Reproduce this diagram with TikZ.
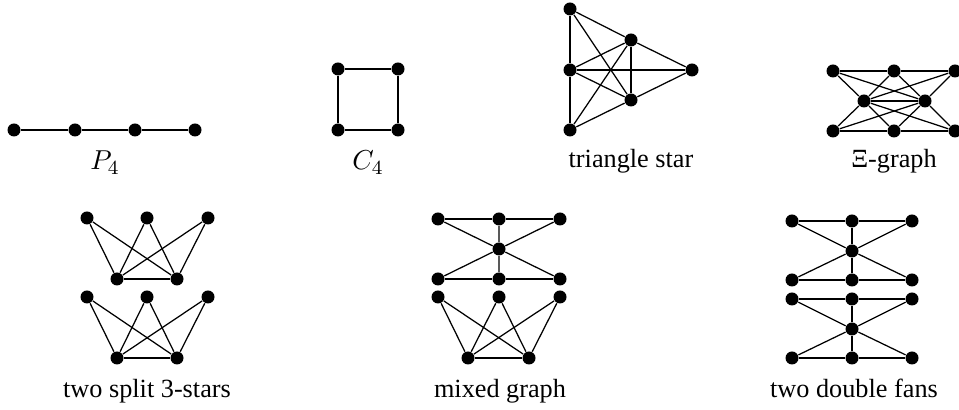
\documentclass[tikz,border=0pt]{standalone}
\usepackage{fontspec}
\setmainfont{Liberation Serif}
\usetikzlibrary{positioning}

\begin{document}
\begin{tikzpicture}[x=0.4pt,y=-0.4pt,line width=0.5pt,
  vtx/.style={circle,fill=black,inner sep=0pt,minimum size=5.2pt},
  lbl/.style={anchor=base,font=\fontsize{10.5}{12}\selectfont}]
  \useasboundingbox (0,0) rectangle (959,410);
  % P4
  \foreach \i/\x in {1/14,2/75,3/135,4/195} \node[vtx] (p\i) at (\x,130) {};
  \draw (p1) -- (p2) -- (p3) -- (p4);
  \node[lbl,font=\fontsize{11}{13}\selectfont] (lp) at (105,170) {$P_4$};
  % C4
  \node[vtx] (c1) at (338,69) {};
  \node[vtx] (c2) at (398,69) {};
  \node[vtx] (c3) at (398,130) {};
  \node[vtx] (c4) at (338,130) {};
  \draw (c1) -- (c2) -- (c3) -- (c4) -- (c1);
  \node[lbl,font=\fontsize{11}{13}\selectfont] (lc) at (368,170) {$C_4$};
  % triangle star
  \node[vtx] (ta) at (570,9) {};
  \node[vtx] (tb) at (631,40) {};
  \node[vtx] (tc) at (570,70) {};
  \node[vtx] (td) at (692,70) {};
  \node[vtx] (te) at (631,100) {};
  \node[vtx] (tf) at (570,130) {};
  \foreach \u/\v in {a/c,c/f,a/b,a/e,b/c,b/d,b/e,b/f,c/d,c/e,d/e,e/f}
    \draw (t\u) -- (t\v);
  \node[lbl] (lt) at (631,168) {triangle star};
  % Xi-graph
  \foreach \i/\x in {1/833,2/894,3/955}{
    \node[vtx] (xa\i) at (\x,71) {};
    \node[vtx] (xb\i) at (\x,131) {};
  }
  \node[vtx] (xm1) at (864,101) {};
  \node[vtx] (xm2) at (925,101) {};
  \draw (xa1) -- (xa2) -- (xa3) (xb1) -- (xb2) -- (xb3) (xm1) -- (xm2);
  \foreach \i in {1,2,3}
    \foreach \m in {1,2}
      \draw (xa\i) -- (xm\m) (xb\i) -- (xm\m);
  \node[lbl] (lx) at (894,168) {Ξ-graph};
  % two split 3-stars
  \foreach \k/\dy in {1/0,2/79}{
    \foreach \i/\x in {1/87,2/147,3/208} \node[vtx] (s\k t\i) at (\x,218+\dy) {};
    \node[vtx] (s\k b1) at (117,279+\dy) {};
    \node[vtx] (s\k b2) at (177,279+\dy) {};
    \draw (s\k b1) -- (s\k b2);
    \foreach \i in {1,2,3}
      \draw (s\k t\i) -- (s\k b1) (s\k t\i) -- (s\k b2);
  }
  \node[lbl] (ls) at (147,398) {two split 3-stars};
  % mixed graph
  \foreach \i/\x in {1/438,2/499,3/560}{
    \node[vtx] (ma\i) at (\x,219) {};
    \node[vtx] (mb\i) at (\x,279) {};
    \node[vtx] (mt\i) at (\x,297) {};
  }
  \node[vtx] (mc) at (499,249) {};
  \node[vtx] (mu1) at (468,358) {};
  \node[vtx] (mu2) at (529,358) {};
  \draw (ma1) -- (ma2) -- (ma3) (mb1) -- (mb2) -- (mb3) (mu1) -- (mu2);
  \foreach \i in {1,2,3}
    \draw (ma\i) -- (mc) (mb\i) -- (mc) (mt\i) -- (mu1) (mt\i) -- (mu2);
  \node[lbl] (lm) at (500,398) {mixed graph};
  % two double fans
  \foreach \k/\dy in {1/0,2/78}{
    \foreach \i/\x in {1/792,2/852,3/912}{
      \node[vtx] (f\k a\i) at (\x,221+\dy) {};
      \node[vtx] (f\k b\i) at (\x,280+\dy) {};
    }
    \node[vtx] (f\k c) at (852,251+\dy) {};
    \draw (f\k a1) -- (f\k a2) -- (f\k a3) (f\k b1) -- (f\k b2) -- (f\k b3);
    \foreach \i in {1,2,3}
      \draw (f\k a\i) -- (f\k c) (f\k b\i) -- (f\k c);
  }
  \node[lbl] (lf) at (854,398) {two double fans};
\end{tikzpicture}
\end{document}
